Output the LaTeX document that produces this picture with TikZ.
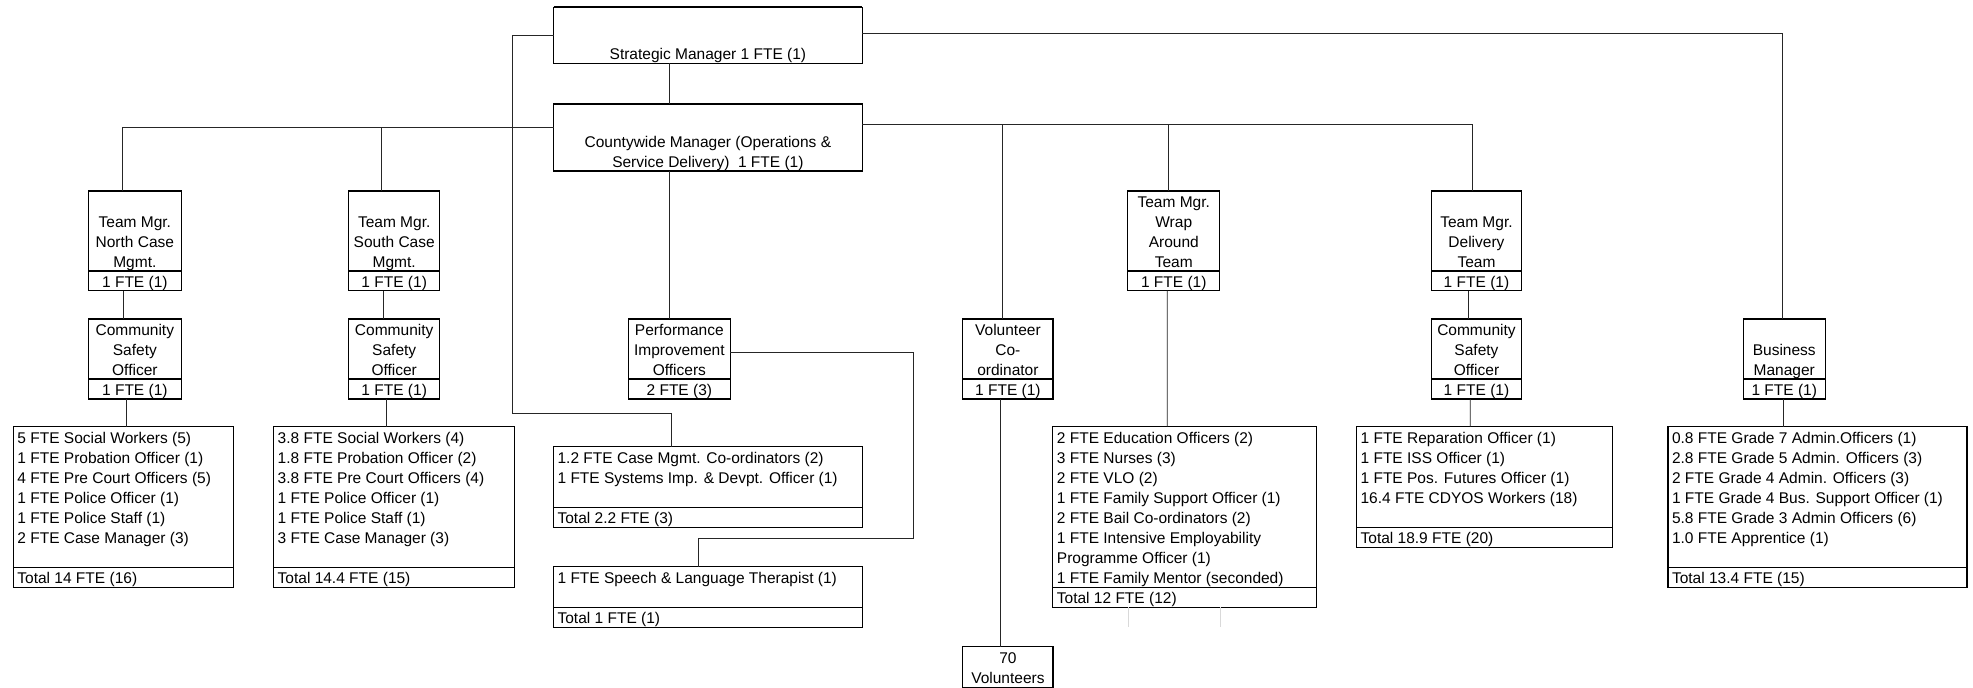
\documentclass[tikz,border=0pt]{standalone}
\usepackage{fontspec}
\setmainfont{Liberation Sans}
\usetikzlibrary{calc}
\newcommand\tf{\fontsize{11.63pt}{15pt}\selectfont}
\tikzset{
  boxrect/.style={draw=black, line width=0.8pt, inner sep=0pt, outer sep=0pt, fill=white},
  thickrule/.style={draw=black, line width=1.4pt},
  midrule/.style={draw=black, line width=1.0pt},
  conn/.style={draw=black!85, line width=0.6pt},
  faint/.style={draw=black!15, line width=0.6pt},
  ttl/.style={inner sep=0pt, outer sep=0pt, align=center, font=\tf},
  lst/.style={inner sep=0pt, outer sep=0pt, align=left, font=\tf},
}
% name, x1, y1, x2, ydiv, y2, title, fte
\newcommand\OrgBox[8]{%
  \node[boxrect, minimum width={(#4-#2)*0.75pt}, minimum height={(#6-#3)*0.75pt}, anchor=north west] (#1) at (#2,#3) {};
  \draw[thickrule] (#1.north west) -- (#1.north east);
  \draw[thickrule] (#2,#5) -- (#4,#5);
  \node[ttl, anchor=south] (#1-t) at ({(#2+#4)/2},{#5+2.5}) {#7\strut};
  \node[ttl, anchor=south] (#1-f) at ({(#2+#4)/2},{#6+2.5}) {#8\strut};
}
% name, x1, y1, x2, ydiv, y2, lines, total
\newcommand\ListBox[8]{%
  \node[boxrect, minimum width={(#4-#2)*0.75pt}, minimum height={(#6-#3)*0.75pt}, anchor=north west] (#1) at (#2,#3) {};
  \draw[midrule] (#2,#5) -- (#4,#5);
  \node[lst, anchor=north west] (#1-l) at ({#2+4},{#3+3.2}) {\strut #7};
  \node[lst, anchor=south west] (#1-s) at ({#2+4},{#6+2.5}) {#8\strut};
}
% name, x1, y1, x2, y2, text, top rule style
\newcommand\PlainBox[7]{%
  \node[boxrect, minimum width={(#4-#2)*0.75pt}, minimum height={(#5-#3)*0.75pt}, anchor=north west] (#1) at (#2,#3) {};
  \draw[#7] (#1.north west) -- (#1.north east);
  \node[ttl, anchor=south] (#1-t) at ({(#2+#4)/2},{#5+2.5}) {#6\strut};
}
\begin{document}
\begin{tikzpicture}[x=0.75pt, y=-0.75pt]
\fill[white] (0,0) rectangle (1973,688);
\useasboundingbox (0,0) rectangle (1973,688);

% ---------- boxes ----------
\PlainBox{sm}{553.6}{7.3}{862.2}{63.3}{Strategic Manager 1 FTE (1)}{thickrule}
\PlainBox{cw}{553.6}{103.7}{862.2}{171}{Countywide Manager (Operations \&\\Service Delivery)\ \ 1 FTE (1)}{thickrule}

\OrgBox{tmN}{88.4}{190.7}{181.3}{270.7}{290.7}{Team Mgr.\\North Case\\Mgmt.}{1 FTE (1)}
\OrgBox{csN}{88.4}{318.7}{181.3}{379}{399}{Community\\Safety\\Officer}{1 FTE (1)}
\ListBox{lsN}{13.4}{426.7}{233.5}{567.3}{587.3}{5 FTE Social Workers (5)\\1 FTE Probation Officer (1)\\4 FTE Pre Court Officers (5)\\1 FTE Police Officer (1)\\1 FTE Police Staff (1)\\2 FTE Case Manager (3)}{Total 14 FTE (16)}

\OrgBox{tmS}{348.7}{190.7}{439.7}{270.7}{290.7}{Team Mgr.\\South Case\\Mgmt.}{1 FTE (1)}
\OrgBox{csS}{348.7}{318.7}{439.7}{379}{399}{Community\\Safety\\Officer}{1 FTE (1)}
\ListBox{lsS}{273.7}{426.7}{514.3}{567.3}{587.3}{3.8 FTE Social Workers (4)\\1.8 FTE Probation Officer (2)\\3.8 FTE Pre Court Officers (4)\\1 FTE Police Officer (1)\\1 FTE Police Staff (1)\\3 FTE Case Manager (3)}{Total 14.4 FTE (15)}

\OrgBox{pio}{628.6}{318.7}{730.1}{379}{399}{Performance\\Improvement\\Officers}{2 FTE (3)}
\ListBox{cmc}{553.6}{446.7}{862.2}{507.3}{527.3}{1.2 FTE Case Mgmt. Co-ordinators (2)\\1 FTE Systems Imp. \& Devpt. Officer (1)}{Total 2.2 FTE (3)}
\ListBox{slt}{553.6}{566.7}{862.2}{607.3}{627.3}{1 FTE Speech \& Language Therapist (1)}{Total 1 FTE (1)}

\OrgBox{vol}{962.8}{318.7}{1053}{379}{399}{Volunteer\\Co-\\ordinator}{1 FTE (1)}
\PlainBox{v70}{962.8}{646.7}{1053}{687.3}{70\\Volunteers}{midrule}

\OrgBox{tmW}{1127.6}{190.7}{1219.9}{270.7}{290.7}{Team Mgr.\\Wrap\\Around\\Team}{1 FTE (1)}
\ListBox{lsW}{1052.9}{426.7}{1316.6}{587.3}{607.3}{2 FTE Education Officers (2)\\3 FTE Nurses (3)\\2 FTE VLO (2)\\1 FTE Family Support Officer (1)\\2 FTE Bail Co-ordinators (2)\\1 FTE Intensive Employability\\Programme Officer (1)\\1 FTE Family Mentor (seconded)}{Total 12 FTE (12)}

\OrgBox{tmD}{1431.4}{190.7}{1521.5}{270.7}{290.7}{Team Mgr.\\Delivery\\Team}{1 FTE (1)}
\OrgBox{csD}{1431.4}{318.7}{1521.5}{379}{399}{Community\\Safety\\Officer}{1 FTE (1)}
\ListBox{lsD}{1356.6}{426.7}{1612.1}{527.3}{547.3}{1 FTE Reparation Officer (1)\\1 FTE ISS Officer (1)\\1 FTE Pos. Futures Officer (1)\\16.4 FTE CDYOS Workers (18)}{Total 18.9 FTE (20)}

\OrgBox{bm}{1743.3}{318.7}{1825.2}{379}{399}{Business\\Manager}{1 FTE (1)}
\ListBox{lsB}{1668}{426.7}{1967}{567.3}{587.3}{0.8 FTE Grade 7 Admin.Officers (1)\\2.8 FTE Grade 5 Admin. Officers (3)\\2 FTE Grade 4 Admin. Officers (3)\\1 FTE Grade 4 Bus. Support Officer (1)\\5.8 FTE Grade 3 Admin Officers (6)\\1.0 FTE Apprentice (1)}{Total 13.4 FTE (15)}

% ---------- connectors ----------
\draw[conn] ($(sm.south west)+(115.8,0)$) -- ($(cw.north west)+(115.8,0)$);
\draw[conn] ($(sm.north west)+(0,27.7)$) -- ++(-41.3,0) |- ($(cmc.north west)+(117.4,-33.4)$) -- ($(cmc.north west)+(117.4,0)$);
\draw[conn] ($(sm.north east)+(0,26)$) -| ($(bm.north west)+(38.9,0)$);

\draw[conn] ($(cw.north west)+(0,23.6)$) -| ($(tmN.north west)+(33.5,0)$);
\draw[conn] ($(tmS.north west)+(33,0)$) -- ++(0,-63.4);
\draw[conn] ($(cw.north east)+(0,20.8)$) -| ($(tmD.north west)+(41.2,0)$);
\draw[conn] ($(vol.north west)+(39.8,0)$) -- ++(0,-194.2);
\draw[conn] ($(tmW.north west)+(40.8,0)$) -- ++(0,-66.2);
\draw[conn] ($(cw.south west)+(115.8,0)$) -- ($(pio.north west)+(40.8,0)$);

\draw[conn] ($(tmN.south west)+(35.3,0)$) -- ($(csN.north west)+(35.3,0)$);
\draw[conn] ($(csN.south west)+(38.4,0)$) -- ($(lsN.north west)+(113.4,0)$);
\draw[conn] ($(tmS.south west)+(34.3,0)$) -- ($(csS.north west)+(34.3,0)$);
\draw[conn] ($(csS.south west)+(37.9,0)$) -- ($(lsS.north west)+(112.9,0)$);

\draw[conn] ($(pio.north east)+(0,34)$) -- ++(183.2,0) |- ($(slt.north west)+(144.9,-28)$) -- ($(slt.north west)+(144.9,0)$);

\draw[conn] ($(vol.south west)+(37.7,0)$) -- ($(v70.north west)+(37.7,0)$);
\draw[conn] ($(tmW.south west)+(39.7,0)$) -- ($(lsW.north west)+(114.4,0)$);
\draw[conn] ($(tmD.south west)+(37.1,0)$) -- ($(csD.north west)+(37.1,0)$);
\draw[conn] ($(csD.south west)+(38.8,0)$) -- ($(lsD.north west)+(113.6,0)$);
\draw[conn] ($(bm.south west)+(40.1,0)$) -- ($(lsB.north west)+(115.4,0)$);

\draw[faint] ($(lsW.south west)+(75.4,0)$) -- ++(0,19.4);
\draw[faint] ($(lsW.south west)+(167.2,0)$) -- ++(0,19.4);
\end{tikzpicture}
\end{document}
